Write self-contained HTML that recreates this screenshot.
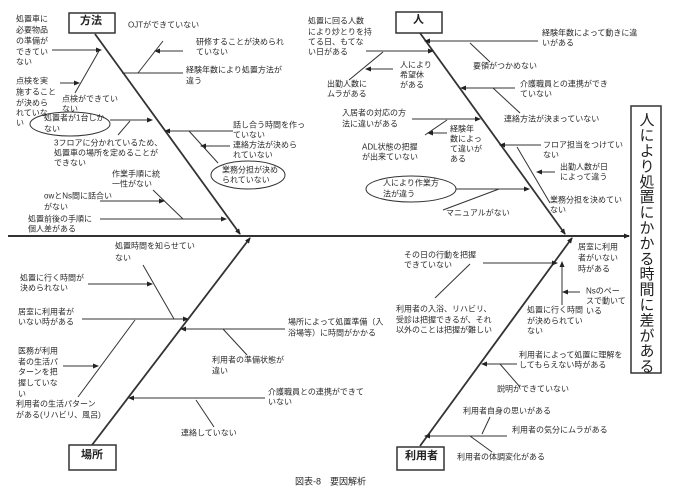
<!DOCTYPE html>
<html><head><meta charset="utf-8"><style>
html,body{margin:0;padding:0;background:#fff;}
svg{display:block;}
text{font-family:"Liberation Sans","Noto Sans CJK JP",sans-serif;font-size:8px;fill:#2a2a2a;dominant-baseline:hanging;}
.b{font-weight:bold;font-size:11px;fill:#222;}
line,path{stroke:#333;fill:none;}
</style></head><body>
<svg width="685" height="498" viewBox="0 0 685 498" xmlns="http://www.w3.org/2000/svg">
<defs><marker id="a" markerWidth="6" markerHeight="6" refX="5" refY="3" orient="auto" markerUnits="userSpaceOnUse"><path d="M0,0.5 L6,3 L0,5.5 Z" style="fill:#222;stroke:none"/></marker></defs>

<line x1="8" y1="236" x2="629" y2="236" stroke-width="2" marker-end="url(#a)"/>
<rect x="631" y="106" width="30" height="267" fill="#fff" stroke="#333" stroke-width="1.5"/>
<text x="646" y="112" style="writing-mode:vertical-rl;font-size:15px;letter-spacing:0.4px;fill:#222;dominant-baseline:auto">人により処置にかかる時間に差がある</text>

<line x1="95" y1="34" x2="240" y2="234" stroke-width="1.8" marker-end="url(#a)"/>
<line x1="420" y1="33" x2="565" y2="234" stroke-width="1.8" marker-end="url(#a)"/>
<line x1="92" y1="445" x2="250" y2="238" stroke-width="1.8" marker-end="url(#a)"/>
<line x1="420" y1="446" x2="572" y2="238" stroke-width="1.8" marker-end="url(#a)"/>

<rect x="69" y="13" width="46" height="20" fill="#fff" stroke="#333" stroke-width="1.5"/><text class="b" x="80" y="17">方法</text>
<rect x="396" y="12" width="46" height="21" fill="#fff" stroke="#333" stroke-width="1.5"/><text class="b" x="413" y="16">人</text>
<rect x="69" y="445" width="47" height="25" fill="#fff" stroke="#333" stroke-width="1.5"/><text class="b" x="81" y="451">場所</text>
<rect x="397" y="447" width="47" height="23" fill="#fff" stroke="#333" stroke-width="1.5"/><text class="b" x="405" y="452">利用者</text>

<text x="16" y="16">処置車に</text><text x="16" y="27">必要物品</text><text x="16" y="38">の準備が</text><text x="16" y="49">できてい</text><text x="16" y="59">ない</text>
<line x1="52" y1="50" x2="101" y2="50" marker-end="url(#a)"/>
<text x="128" y="22">OJTができていない</text>
<text x="196" y="39">研修することが決められ</text><text x="196" y="49">ていない</text>
<line x1="183" y1="51" x2="155" y2="51" marker-end="url(#a)"/>
<line x1="163" y1="41" x2="138" y2="73"/>
<line x1="122" y1="73" x2="183" y2="73"/>
<text x="186" y="67">経験年数により処置方法が</text><text x="186" y="78">違う</text>
<text x="16" y="78">点検を実</text><text x="16" y="89">施すること</text><text x="16" y="100">が決めら</text><text x="16" y="110">れていな</text><text x="16" y="120">い</text>
<line x1="60" y1="83" x2="79" y2="83" marker-end="url(#a)"/>
<line x1="75" y1="93" x2="99" y2="51"/>
<text x="62" y="96">点検ができてい</text><text x="62" y="106">ない</text>
<ellipse cx="70" cy="124" rx="40" ry="12" fill="none" stroke="#333"/>
<text x="44" y="115">処置者が1台しか</text><text x="44" y="126">ない</text>
<line x1="110" y1="120" x2="152" y2="120" marker-end="url(#a)"/>
<line x1="118" y1="135" x2="130" y2="121"/>
<text x="54" y="140">3フロアに分かれているため、</text><text x="54" y="150">処置車の場所を定めることが</text><text x="54" y="160">できない</text>
<text x="233" y="122">話し合う時間を作っ</text><text x="233" y="132">ていない</text>
<line x1="233" y1="131" x2="165" y2="131" marker-end="url(#a)"/>
<text x="233" y="142">連絡方法が決めら</text><text x="233" y="152">れていない</text>
<line x1="230" y1="146" x2="201" y2="146" marker-end="url(#a)"/>
<line x1="189" y1="131" x2="218" y2="163"/>
<ellipse cx="248" cy="175" rx="37" ry="14" fill="none" stroke="#333"/>
<text x="222" y="167">業務分担が決め</text><text x="222" y="177">られていない</text>
<text x="112" y="171">作業手順に統</text><text x="112" y="181">一性がない</text>
<line x1="153" y1="190" x2="183" y2="219"/>
<text x="44" y="193">owとNs間に話合い</text><text x="44" y="204">がない</text>
<line x1="100" y1="201" x2="164" y2="201" marker-end="url(#a)"/>
<text x="28" y="216">処置前後の手順に</text><text x="28" y="226">個人差がある</text>
<line x1="100" y1="219" x2="226" y2="219" marker-end="url(#a)"/>

<text x="308" y="18">処置に回る人数</text><text x="308" y="29">により炒とりを持</text><text x="308" y="39">てる日、もてな</text><text x="308" y="49">い日がある</text>
<line x1="366" y1="51" x2="433" y2="51" marker-end="url(#a)"/>
<line x1="349" y1="80" x2="383" y2="52"/>
<text x="400" y="62">人により</text><text x="400" y="72">希望休</text><text x="400" y="82">がある</text>
<line x1="393" y1="69" x2="366" y2="69" marker-end="url(#a)"/>
<text x="327" y="81">出勤人数に</text><text x="327" y="91">ムラがある</text>
<text x="542" y="30">経験年数によって動きに違</text><text x="542" y="40">いがある</text>
<line x1="538" y1="41" x2="425" y2="41" marker-end="url(#a)"/>
<line x1="470" y1="43" x2="490" y2="62"/>
<text x="473" y="63">要領がつかめない</text>
<text x="520" y="81">介護職員との連携ができ</text><text x="520" y="91">ていない</text>
<line x1="515" y1="88" x2="461" y2="88" marker-end="url(#a)"/>
<line x1="493" y1="88" x2="520" y2="113"/>
<text x="504" y="116">連絡方法が決まっていない</text>
<text x="342" y="110">入居者の対応の方</text><text x="342" y="121">法に違いがある</text>
<line x1="412" y1="119" x2="480" y2="119" marker-end="url(#a)"/>
<line x1="425" y1="135" x2="447" y2="120"/>
<text x="450" y="126">経験年</text><text x="450" y="136">数によっ</text><text x="450" y="146">て違いが</text><text x="450" y="156">ある</text>
<line x1="447" y1="133" x2="428" y2="133" marker-end="url(#a)"/>
<text x="362" y="144">ADL状態の把握</text><text x="362" y="154">が出来ていない</text>
<text x="543" y="142">フロア担当をつけてい</text><text x="543" y="152">ない</text>
<line x1="541" y1="145" x2="500" y2="145" marker-end="url(#a)"/>
<line x1="517" y1="147" x2="550" y2="203"/>
<text x="560" y="164">出勤人数が日</text><text x="560" y="174">によって違う</text>
<line x1="555" y1="172" x2="537" y2="172" marker-end="url(#a)"/>
<text x="550" y="197">業務分担を決めてい</text><text x="550" y="207">ない</text>
<ellipse cx="411" cy="189" rx="45" ry="13" fill="none" stroke="#333"/>
<text x="383" y="180">人により作業方</text><text x="383" y="191">法が違う</text>
<line x1="456" y1="189" x2="529" y2="189" marker-end="url(#a)"/>
<line x1="443" y1="210" x2="499" y2="189"/>
<text x="446" y="210">マニュアルがない</text>

<text x="115" y="243">処置時間を知らせてい</text><text x="115" y="255">ない</text>
<line x1="143" y1="265" x2="174" y2="319"/>
<text x="20" y="275">処置に行く時間が</text><text x="20" y="285">決められない</text>
<line x1="88" y1="284" x2="152" y2="284" marker-end="url(#a)"/>
<text x="18" y="309">居室に利用者が</text><text x="18" y="319">いない時がある</text>
<line x1="82" y1="319" x2="188" y2="319" marker-end="url(#a)"/>
<text x="18" y="348">医務が利用</text><text x="18" y="359">者の生活パ</text><text x="18" y="369">ターンを把</text><text x="18" y="380">握していな</text><text x="18" y="391">い</text>
<line x1="63" y1="366" x2="98" y2="366" marker-end="url(#a)"/>
<line x1="78" y1="397" x2="135" y2="320"/>
<text x="16" y="401">利用者の生活パターン</text><text x="16" y="412">がある(リハビリ、風呂)</text>
<text x="288" y="319">場所によって処置準備（入</text><text x="288" y="330">浴場等）に時間がかかる</text>
<line x1="285" y1="329" x2="181" y2="329" marker-end="url(#a)"/>
<line x1="223" y1="329" x2="247" y2="355"/>
<text x="212" y="357">利用者の準備状態が</text><text x="212" y="368">違い</text>
<text x="268" y="389">介護職員との連携ができて</text><text x="268" y="399">いない</text>
<line x1="265" y1="398" x2="129" y2="398" marker-end="url(#a)"/>
<line x1="196" y1="400" x2="214" y2="427"/>
<text x="181" y="430">連絡していない</text>

<text x="404" y="252">その日の行動を把握</text><text x="404" y="262">できていない</text>
<line x1="483" y1="263" x2="557" y2="263" marker-end="url(#a)"/>
<line x1="470" y1="264" x2="435" y2="298"/>
<text x="578" y="244">居室に利用</text><text x="578" y="255">者がいない</text><text x="578" y="266">時がある</text>
<text x="586" y="288">Nsのペー</text><text x="586" y="298">スで動いて</text><text x="586" y="308">いる</text>
<line x1="580" y1="292" x2="563" y2="292" marker-end="url(#a)"/>
<line x1="562" y1="305" x2="562" y2="262" marker-end="url(#a)"/>
<text x="527" y="307">処置に行く時間</text><text x="527" y="318">が決められてい</text><text x="527" y="328">ない</text>
<text x="396" y="306">利用者の入浴、リハビリ、</text><text x="396" y="317">受診は把握できるが、それ</text><text x="396" y="327">以外のことは把握が難しい</text>
<text x="519" y="352">利用者によって処置に理解を</text><text x="519" y="362">してもらえない時がある</text>
<line x1="517" y1="364" x2="482" y2="364" marker-end="url(#a)"/>
<line x1="500" y1="364" x2="520" y2="387"/>
<text x="497" y="386">説明ができていない</text>
<text x="463" y="408">利用者自身の思いがある</text>
<text x="512" y="427">利用者の気分にムラがある</text>
<line x1="507" y1="436" x2="425" y2="436" marker-end="url(#a)"/>
<line x1="490" y1="417" x2="482" y2="434"/>
<line x1="470" y1="436" x2="492" y2="452"/>
<text x="457" y="454">利用者の体調変化がある</text>

<text x="295" y="478" style="font-size:9px">図表-8　要因解析</text>
</svg>
</body></html>
